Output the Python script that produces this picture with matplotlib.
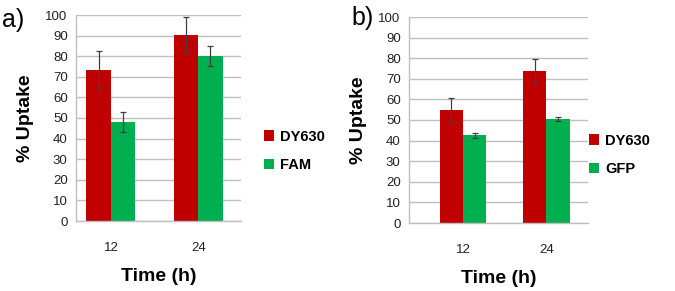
import numpy as np
import matplotlib.pyplot as plt

plt.rcParams['font.family'] = ['Liberation Sans', 'DejaVu Sans']

times = ['12', '24']

# panel a
dy630_a = [73.5, 90.5]
dy630_a_err = [9.0, 8.5]
fam_a = [48.0, 80.0]
fam_a_err = [4.8, 4.8]

# panel b
dy630_b = [55.0, 74.0]
dy630_b_err = [5.8, 5.5]
gfp_b = [42.5, 50.5]
gfp_b_err = [1.2, 1.0]

RED = '#C00000'
GREEN = '#00B050'


def panel(ax, red, red_err, green, green_err, green_name, xlim, legend_at):
    x = np.arange(len(times))
    w = 0.28
    ax.set_axisbelow(True)
    ax.yaxis.grid(True, color='#bfbfbf', linewidth=1)
    kw = dict(ecolor='#404040', capsize=2.5, error_kw=dict(elinewidth=0.9, capthick=0.9))
    ax.bar(x - w / 2, red, w, yerr=red_err, color=RED, label='DY630', **kw)
    ax.bar(x + w / 2, green, w, yerr=green_err, color=GREEN, label=green_name, **kw)
    ax.set_ylim(0, 100)
    ax.set_yticks(range(0, 101, 10))
    ax.set_xlim(*xlim)
    ax.set_xticks(x)
    ax.set_xticklabels(times)
    ax.tick_params(axis='both', length=0, labelsize=9.5, colors='#222222')
    ax.tick_params(axis='x', pad=15)
    ax.tick_params(axis='y', pad=6)
    for s in ['top', 'right']:
        ax.spines[s].set_visible(False)
    for s in ['left', 'bottom']:
        ax.spines[s].set_color('#bfbfbf')
        ax.spines[s].set_linewidth(1)
    ax.set_ylabel('% Uptake', fontsize=14, fontweight='bold', labelpad=8)
    ax.set_xlabel('Time (h)', fontsize=14, fontweight='bold', labelpad=10)
    fig.legend(*ax.get_legend_handles_labels(), loc='center left',
               bbox_to_anchor=legend_at, bbox_transform=fig.transFigure,
               frameon=False, borderaxespad=0, borderpad=0,
               prop=dict(size=10.5, weight='bold'), handlelength=0.7, handleheight=0.7,
               handletextpad=0.4, labelspacing=1.0)


fig = plt.figure(figsize=(6.75, 2.91), dpi=100)
ax1 = fig.add_axes([76 / 675, 70 / 291, 165 / 675, 206 / 291])
ax2 = fig.add_axes([409 / 675, 68 / 291, 179 / 675, 206 / 291])

panel(ax1, dy630_a, dy630_a_err, fam_a, fam_a_err, 'FAM', (-0.40, 1.49),
      (264 / 675, 1 - 151 / 291))
panel(ax2, dy630_b, dy630_b_err, gfp_b, gfp_b_err, 'GFP', (-0.65, 1.50),
      (589 / 675, 1 - 155 / 291))

fig.text(2 / 675, 1 - 20 / 291, 'a)', fontsize=18, va='center', ha='left')
fig.text(351 / 675, 1 - 18 / 291, 'b)', fontsize=18, va='center', ha='left')

fig.savefig('out.png', dpi=100)
